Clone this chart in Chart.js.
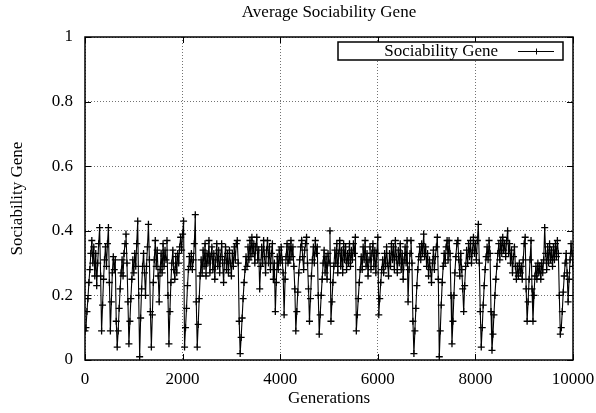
<!DOCTYPE html>
<html>
<head>
<meta charset="utf-8">
<script src="https://cdn.jsdelivr.net/npm/chart.js@4.4.0/dist/chart.umd.min.js"></script>
<style>
html, body { margin: 0; padding: 0; background: #fff; }
</style>
</head>
<body>
<canvas id="chart" width="596" height="413"></canvas>
<script>
const chartTitle = 'Average Sociability Gene';
const seriesName = 'Sociability Gene';
const xTitle = 'Generations';
const yTitle = 'Sociability Gene';
const xTicks = [0, 2000, 4000, 6000, 8000, 10000];
const yTicks = [0, 0.2, 0.4, 0.6, 0.8, 1];
// one sample every 20 generations (20 per row = 400 generations)
const genStep = 20;
const gene = [
  0.09, 0.10, 0.15, 0.19, 0.24, 0.28, 0.33, 0.37, 0.30, 0.35, 0.26, 0.33, 0.23, 0.30, 0.36, 0.41, 0.26, 0.09, 0.17, 0.25,
  0.31, 0.35, 0.29, 0.36, 0.41, 0.24, 0.09, 0.18, 0.27, 0.32, 0.28, 0.31, 0.12, 0.04, 0.09, 0.16, 0.22, 0.27, 0.31, 0.26,
  0.33, 0.36, 0.39, 0.30, 0.18, 0.05, 0.12, 0.19, 0.25, 0.31, 0.27, 0.33, 0.29, 0.36, 0.43, 0.20, 0.01, 0.13, 0.22, 0.29,
  0.33, 0.27, 0.20, 0.29, 0.35, 0.42, 0.31, 0.15, 0.04, 0.14, 0.24, 0.31, 0.37, 0.29, 0.34, 0.26, 0.18, 0.28, 0.33, 0.27,
  0.36, 0.29, 0.34, 0.31, 0.37, 0.20, 0.05, 0.15, 0.24, 0.30, 0.34, 0.28, 0.25, 0.32, 0.27, 0.33, 0.30, 0.35, 0.38, 0.34,
  0.39, 0.43, 0.04, 0.10, 0.16, 0.23, 0.28, 0.32, 0.29, 0.33, 0.28, 0.31, 0.36, 0.45, 0.18, 0.04, 0.11, 0.19, 0.26, 0.31,
  0.27, 0.34, 0.29, 0.36, 0.26, 0.33, 0.30, 0.37, 0.27, 0.32, 0.35, 0.28, 0.33, 0.25, 0.31, 0.36, 0.29, 0.34, 0.27, 0.32,
  0.36, 0.30, 0.24, 0.31, 0.35, 0.28, 0.33, 0.27, 0.34, 0.30, 0.26, 0.33, 0.29, 0.35, 0.31, 0.36, 0.37, 0.30, 0.12, 0.02,
  0.07, 0.13, 0.19, 0.24, 0.28, 0.32, 0.29, 0.35, 0.31, 0.37, 0.32, 0.38, 0.33, 0.36, 0.30, 0.35, 0.38, 0.31, 0.34, 0.22,
  0.29, 0.35, 0.30, 0.37, 0.32, 0.27, 0.34, 0.37, 0.30, 0.35, 0.28, 0.33, 0.36, 0.25, 0.30, 0.15, 0.24, 0.32, 0.28, 0.34,
  0.30, 0.35, 0.31, 0.27, 0.14, 0.25, 0.32, 0.36, 0.30, 0.35, 0.31, 0.37, 0.32, 0.35, 0.29, 0.22, 0.09, 0.15, 0.21, 0.27,
  0.31, 0.35, 0.37, 0.32, 0.28, 0.34, 0.36, 0.38, 0.30, 0.22, 0.12, 0.19, 0.26, 0.31, 0.35, 0.30, 0.37, 0.33, 0.35, 0.20,
  0.08, 0.14, 0.20, 0.25, 0.30, 0.34, 0.27, 0.32, 0.25, 0.33, 0.30, 0.40, 0.12, 0.18, 0.24, 0.29, 0.34, 0.30, 0.36, 0.27,
  0.33, 0.37, 0.29, 0.34, 0.27, 0.36, 0.31, 0.35, 0.28, 0.33, 0.30, 0.36, 0.29, 0.34, 0.31, 0.36, 0.33, 0.38, 0.09, 0.14,
  0.19, 0.24, 0.28, 0.32, 0.28, 0.35, 0.31, 0.37, 0.29, 0.33, 0.26, 0.31, 0.35, 0.28, 0.33, 0.36, 0.29, 0.34, 0.27, 0.33,
  0.38, 0.14, 0.19, 0.24, 0.28, 0.31, 0.27, 0.33, 0.29, 0.35, 0.30, 0.26, 0.33, 0.29, 0.36, 0.31, 0.35, 0.28, 0.37, 0.32,
  0.27, 0.34, 0.30, 0.36, 0.28, 0.33, 0.25, 0.31, 0.35, 0.30, 0.37, 0.18, 0.28, 0.33, 0.37, 0.30, 0.12, 0.02, 0.09, 0.16,
  0.23, 0.28, 0.32, 0.35, 0.31, 0.36, 0.33, 0.39, 0.32, 0.35, 0.29, 0.33, 0.26, 0.31, 0.28, 0.24, 0.30, 0.34, 0.28, 0.32,
  0.35, 0.38, 0.25, 0.01, 0.09, 0.17, 0.24, 0.29, 0.33, 0.30, 0.35, 0.37, 0.31, 0.37, 0.33, 0.20, 0.05, 0.12, 0.20, 0.27,
  0.32, 0.36, 0.37, 0.31, 0.26, 0.33, 0.28, 0.22, 0.15, 0.23, 0.29, 0.34, 0.30, 0.36, 0.32, 0.37, 0.30, 0.34, 0.38, 0.33,
  0.36, 0.31, 0.37, 0.42, 0.30, 0.15, 0.04, 0.10, 0.17, 0.23, 0.28, 0.32, 0.35, 0.31, 0.37, 0.33, 0.15, 0.03, 0.08, 0.14,
  0.20, 0.25, 0.29, 0.33, 0.36, 0.31, 0.37, 0.33, 0.38, 0.34, 0.36, 0.32, 0.37, 0.40, 0.33, 0.36, 0.30, 0.34, 0.27, 0.32,
  0.35, 0.29, 0.25, 0.29, 0.26, 0.30, 0.27, 0.29, 0.25, 0.31, 0.36, 0.38, 0.22, 0.12, 0.18, 0.25, 0.31, 0.37, 0.22, 0.12,
  0.20, 0.26, 0.29, 0.25, 0.30, 0.27, 0.29, 0.25, 0.30, 0.27, 0.31, 0.41, 0.33, 0.28, 0.35, 0.30, 0.36, 0.31, 0.34, 0.29,
  0.35, 0.31, 0.36, 0.32, 0.37, 0.33, 0.20, 0.08, 0.10, 0.15, 0.21, 0.26, 0.30, 0.33, 0.27, 0.18, 0.25, 0.31, 0.36, 0.33,
  0.29
];

const serif = "'Liberation Serif', 'Times New Roman', serif";
const points = gene.map((v, i) => ({ x: i * genStep, y: v }));

// gnuplot style frame: title, inward tick marks on all four sides and the boxed key
const gnuFrame = {
  id: 'gnuFrame',
  afterDraw(chart) {
    const ctx = chart.ctx;
    const a = chart.chartArea;
    const xs = chart.scales.x, ys = chart.scales.y;
    ctx.save();

    ctx.fillStyle = '#000';
    ctx.font = '17px ' + serif;
    ctx.textAlign = 'center';
    ctx.textBaseline = 'middle';
    ctx.fillText(chartTitle, (a.left + a.right) / 2, 13);

    ctx.strokeStyle = '#000';
    ctx.lineWidth = 1;
    ctx.beginPath();
    xTicks.forEach(v => {
      const px = Math.round(xs.getPixelForValue(v)) + 0.5;
      ctx.moveTo(px, a.bottom); ctx.lineTo(px, a.bottom - 6);
      ctx.moveTo(px, a.top); ctx.lineTo(px, a.top + 6);
    });
    yTicks.forEach(v => {
      const py = Math.round(ys.getPixelForValue(v)) + 0.5;
      ctx.moveTo(a.left, py); ctx.lineTo(a.left + 6, py);
      ctx.moveTo(a.right, py); ctx.lineTo(a.right - 6, py);
    });
    ctx.stroke();

    // key
    const bx = a.left + 253, by = a.top + 5, bw = a.right - 10 - bx, bh = 18;
    ctx.fillStyle = '#fff';
    ctx.fillRect(bx, by, bw, bh);
    ctx.lineWidth = 1.5;
    ctx.strokeRect(bx, by, bw, bh);
    ctx.fillStyle = '#000';
    ctx.textAlign = 'right';
    ctx.fillText(seriesName, bx + bw - 65, by + bh / 2 + 1);
    ctx.lineWidth = 1;
    const ly = Math.round(by + bh / 2) + 0.5;
    ctx.beginPath();
    ctx.moveTo(bx + bw - 45, ly); ctx.lineTo(bx + bw - 9, ly);
    const mx = Math.round(bx + bw - 27) + 0.5;
    ctx.moveTo(mx - 3, ly); ctx.lineTo(mx + 3, ly);
    ctx.moveTo(mx, ly - 3); ctx.lineTo(mx, ly + 3);
    ctx.stroke();

    // plot border
    ctx.lineWidth = 1.5;
    ctx.strokeRect(a.left, a.top, a.right - a.left, a.bottom - a.top);
    ctx.restore();
  }
};

new Chart(document.getElementById('chart'), {
  type: 'line',
  data: {
    datasets: [{
      label: seriesName,
      data: points,
      borderColor: '#000',
      borderWidth: 1.1,
      pointStyle: 'cross',
      pointRadius: 3.5,
      pointBorderColor: '#000',
      pointBorderWidth: 1.3,
      pointBackgroundColor: '#000',
      tension: 0,
      fill: false
    }]
  },
  options: {
    responsive: false,
    animation: false,
    devicePixelRatio: 1,
    layout: { padding: { left: 0, right: 0, top: 37, bottom: 0 } },
    plugins: {
      legend: { display: false },
      tooltip: { enabled: false },
      title: { display: false }
    },
    scales: {
      x: {
        type: 'linear',
        min: 0,
        max: 10000,
        afterBuildTicks: s => { s.ticks = xTicks.map(v => ({ value: v })); },
        afterFit: s => { s.height = 53; s.paddingRight = 23; s.paddingLeft = 0; },
        ticks: {
          color: '#000',
          font: { family: serif, size: 17 },
          padding: 9,
          maxRotation: 0,
          callback: v => String(v)
        },
        grid: { color: 'rgba(0,0,0,0.55)', lineWidth: 1, drawTicks: false },
        border: { display: false, dash: [1, 2] },
        title: {
          display: true,
          text: xTitle,
          color: '#000',
          font: { family: serif, size: 17 },
          padding: { top: 0, bottom: 4 }
        }
      },
      y: {
        min: 0,
        max: 1,
        afterBuildTicks: s => { s.ticks = yTicks.map(v => ({ value: v })); },
        afterFit: s => { s.width = 85; },
        ticks: {
          color: '#000',
          font: { family: serif, size: 17 },
          padding: 12,
          callback: v => String(v)
        },
        grid: { color: 'rgba(0,0,0,0.55)', lineWidth: 1, drawTicks: false },
        border: { display: false, dash: [1, 2] },
        title: {
          display: true,
          text: yTitle,
          color: '#000',
          font: { family: serif, size: 17 },
          padding: { top: 7, bottom: 0 }
        }
      }
    }
  },
  plugins: [gnuFrame]
});
</script>
</body>
</html>
